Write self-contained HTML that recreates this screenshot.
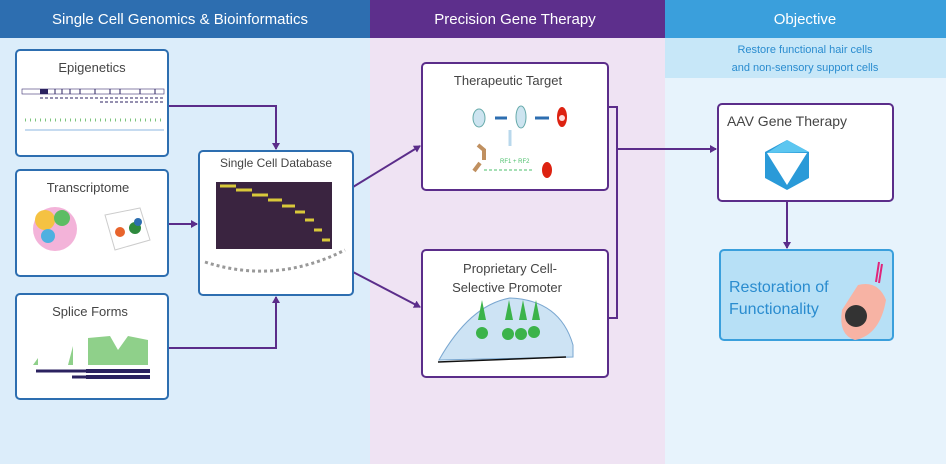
<!DOCTYPE html>
<html><head><meta charset="utf-8"><style>
body{margin:0;width:946px;height:464px;overflow:hidden;font-family:"Liberation Sans",sans-serif}
</style></head><body>
<svg width="946" height="464" xmlns="http://www.w3.org/2000/svg" font-family="Liberation Sans, sans-serif">
<defs><marker id="a" markerWidth="8" markerHeight="8" refX="6" refY="4" orient="auto" markerUnits="userSpaceOnUse"><path d="M0,0 L7,4 L0,8z" fill="#5b2d8a"/></marker></defs>
<rect x="0" y="0" width="370" height="464" fill="#dcedfa"/>
<rect x="370" y="0" width="295" height="464" fill="#efe3f3"/>
<rect x="665" y="0" width="281" height="464" fill="#e7f3fc"/>
<rect x="665" y="38" width="281" height="40" fill="#c7e7f8"/>
<rect x="0" y="0" width="370" height="38" fill="#2d6eb0"/>
<rect x="370" y="0" width="295" height="38" fill="#5d2f8c"/>
<rect x="665" y="0" width="281" height="38" fill="#3a9fdc"/>
<g fill="#fff" font-size="15" text-anchor="middle">
<text x="180" y="24">Single Cell Genomics &amp; Bioinformatics</text>
<text x="515" y="24">Precision Gene Therapy</text>
<text x="805" y="24">Objective</text></g>
<g fill="#2a8ccf" font-size="11" text-anchor="middle"><text x="805" y="53">Restore functional hair cells</text><text x="805" y="71">and non-sensory support cells</text></g>
<g fill="none" stroke="#5b2d8a" stroke-width="2">
<path d="M168,106 H276 V149" marker-end="url(#a)"/>
<path d="M168,224 H197" marker-end="url(#a)"/>
<path d="M168,348 H276 V297" marker-end="url(#a)"/>
<path d="M353,187 L420,146" marker-end="url(#a)"/>
<path d="M353,272 L420,307" marker-end="url(#a)"/>
<path d="M608,107 H617 V318 H608"/>
<path d="M617,149 H716" marker-end="url(#a)"/>
<path d="M787,201 V248" marker-end="url(#a)"/>
</g>
<g fill="#fff" stroke="#2d6eb0" stroke-width="2">
<rect x="16" y="50" width="152" height="106" rx="4"/>
<rect x="16" y="170" width="152" height="106" rx="4"/>
<rect x="16" y="294" width="152" height="105" rx="4"/>
<rect x="199" y="151" width="154" height="144" rx="4"/>
</g>
<g fill="#fff" stroke="#5b2d8a" stroke-width="2">
<rect x="422" y="63" width="186" height="127" rx="4"/>
<rect x="422" y="250" width="186" height="127" rx="4"/>
<rect x="718" y="104" width="175" height="97" rx="4"/>
</g>
<rect x="720" y="250" width="173" height="90" rx="4" fill="#b7e0f6" stroke="#3a9fdc" stroke-width="2"/>
<g fill="#444" font-size="13" text-anchor="middle">
<text x="92" y="72">Epigenetics</text>
<text x="88" y="192">Transcriptome</text>
<text x="90" y="316">Splice Forms</text>
<text x="276" y="167" font-size="12">Single Cell Database</text>
<text x="508" y="85">Therapeutic Target</text>
<text x="510" y="273">Proprietary Cell-</text>
<text x="507" y="292">Selective Promoter</text>
<text x="787" y="126" font-size="14">AAV Gene Therapy</text></g>
<g fill="#2a8ccf" font-size="16"><text x="729" y="292">Restoration of</text><text x="729" y="314">Functionality</text></g>
<!-- epigenetics art -->
<rect x="22" y="89" width="142" height="5" fill="none" stroke="#3a3070" stroke-width=".6"/>
<rect x="40" y="89" width="8" height="5" fill="#2b2260"/>
<path d="M55,89v5M62,89v5M70,89v5M80,89v5M95,89v5M110,89v5M120,89v5M140,89v5M155,89v5" stroke="#2b2260"/>
<path d="M40,98H164M100,102H164" stroke="#2b2260" stroke-width="1" stroke-dasharray="3,2"/>
<path d="M25,120H164" stroke="#7cc47c" stroke-width="3" stroke-dasharray="1,4"/>
<path d="M25,130H164" stroke="#8db7e0" stroke-width="1"/>
<!-- transcriptome -->
<circle cx="55" cy="229" r="22" fill="#f0a0d0" opacity=".8"/><circle cx="45" cy="220" r="10" fill="#f5c242"/><circle cx="62" cy="218" r="8" fill="#5dbd64"/><circle cx="48" cy="236" r="7" fill="#4fb0e0"/>
<path d="M105,215 L140,208 L150,240 L115,250z" fill="none" stroke="#ccc"/><circle cx="120" cy="232" r="5" fill="#e8642c"/><circle cx="135" cy="228" r="6" fill="#2e8a3e"/><circle cx="138" cy="222" r="4" fill="#2d6eb0"/>
<!-- splice -->
<path d="M33,365 L38,358 V365 M68,365 L73,346 V365 M88,365 V338 L110,336 L118,350 L128,336 L148,340 V365z" fill="#8fd08a"/>
<path d="M36,371H150M72,377H150" stroke="#2b2260" stroke-width="3"/><path d="M86,371H150M86,377H150" stroke="#2b2260" stroke-width="4"/>
<!-- heatmap -->
<rect x="216" y="182" width="116" height="67" fill="#3a2440"/>
<path d="M220,186H236M236,190H252M252,195H268M268,200H282M282,206H295M295,212H305M305,220H314M314,230H322M322,240H330" stroke="#d8c83a" stroke-width="3"/>
<path d="M205,262 Q276,285 345,250" fill="none" stroke="#999" stroke-dasharray="3,3" stroke-width="3"/>
<!-- therapeutic target -->
<ellipse cx="479" cy="118" rx="6" ry="9" fill="#cde4f0" stroke="#6aa"/><ellipse cx="521" cy="117" rx="5" ry="11" fill="#cde4f0" stroke="#6aa"/>
<path d="M495,118h12M535,118h14" stroke="#2d6eb0" stroke-width="3"/>
<ellipse cx="562" cy="117" rx="5" ry="10" fill="#d21"/><circle cx="562" cy="118" r="3" fill="#fdd"/>
<path d="M510,130v16" stroke="#b9d8ec" stroke-width="3"/>
<path d="M484,160v-10l-6,-5 M480,163l-6,8" stroke="#c09060" stroke-width="4" fill="none"/>
<path d="M484,170H534" stroke="#4bbf6b" stroke-dasharray="3,2"/><text x="500" y="163" font-size="6" fill="#4bbf6b">RF1 + RF2</text>
<ellipse cx="547" cy="170" rx="5" ry="8" fill="#d21"/>
<!-- promoter -->
<path d="M439,360 Q470,305 510,298 Q560,300 573,345 L573,357z" fill="#cde3f4" stroke="#7aa7d0"/>
<path d="M478,320l4,-20l4,20zM505,320l4,-20l4,20zM519,320l4,-20l4,20zM532,320l4,-20l4,20z" fill="#3bb34a"/>
<circle cx="482" cy="333" r="6" fill="#3bb34a"/><circle cx="508" cy="334" r="6" fill="#3bb34a"/><circle cx="521" cy="334" r="6" fill="#3bb34a"/><circle cx="534" cy="332" r="6" fill="#3bb34a"/>
<path d="M438,362L566,357" stroke="#111" stroke-width="1.5"/>
<!-- AAV -->
<polygon points="787,140 809,152 809,178 787,190 765,178 765,152" fill="#2a9ad8"/>
<polygon points="767,153 807,153 787,185" fill="#fff"/><polygon points="787,140 809,152 767,153" fill="#5cc6f0"/>
<!-- hair cell -->
<path d="M858,285 Q878,280 886,300 Q880,335 855,340 Q838,335 842,310z" fill="#f7b3a4"/>
<circle cx="856" cy="316" r="11" fill="#333"/>
<path d="M876,282 L879,262 M879,283 L882,264" stroke="#e0247a" stroke-width="2"/>
</svg>
</body></html>
